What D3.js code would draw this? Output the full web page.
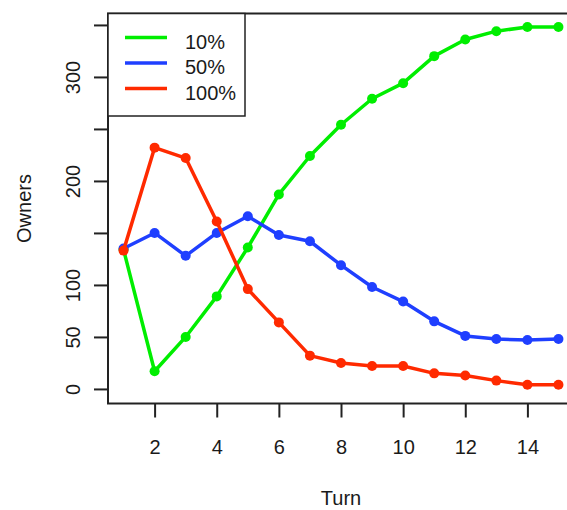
<!DOCTYPE html>
<html>
<head>
<meta charset="utf-8">
<script src="https://cdn.jsdelivr.net/npm/d3@7"></script>
<style>
  body { margin: 0; background: #fff; }
  svg text { font-family: "Liberation Sans", Arial, sans-serif; font-size: 20px; fill: #1a1a1a; }
</style>
</head>
<body>
<svg id="chart"></svg>
<script>
// data
const turns = [1, 2, 3, 4, 5, 6, 7, 8, 9, 10, 11, 12, 13, 14, 15];
const owners10 = [134, 17, 50, 89, 136, 187, 224, 254, 279, 294, 320, 336, 344, 348, 348];
const owners50 = [135, 150, 128, 150, 166, 148, 142, 119, 98, 84, 65, 51, 48, 47, 48];
const owners100 = [133, 232, 222, 161, 96, 64, 32, 25, 22, 22, 15, 13, 8, 4, 4];
const seriesNames = ['10%', '50%', '100%'];
const seriesColors = ['#00ee00', '#1f3fff', '#ff2a00'];
const xTicks = [2, 4, 6, 8, 10, 12, 14];
const yTicks = [0, 50, 100, 150, 200, 250, 300, 350];
const yLabelled = [0, 50, 100, 200, 300];

const width = 567, height = 510;
const plot = { left: 108, right: 574, top: 13.5, bottom: 403.5 };

const svg = d3.select('#chart')
  .attr('width', width)
  .attr('height', height);

const x = d3.scaleLinear()
  .domain([0.5, 15.5])
  .range([plot.left, plot.right]);

const y = d3.scaleLinear()
  .domain([-14, 361])
  .range([plot.bottom, plot.top]);

// axes (R style: ticks outside, labels only where they fit)
const xAxis = d3.axisBottom(x)
  .tickValues(xTicks)
  .tickSize(14)
  .tickFormat(d3.format('d'));

const yAxis = d3.axisLeft(y)
  .tickValues(yTicks)
  .tickSize(14)
  .tickFormat(d => yLabelled.includes(d) ? d : '');

const xG = svg.append('g')
  .attr('transform', `translate(0,${plot.bottom})`)
  .call(xAxis);
xG.select('.domain').remove();
xG.selectAll('line').attr('stroke', '#222').attr('stroke-width', 2);
xG.selectAll('text')
  .attr('y', 50)
  .attr('dy', 0)
  .style('font-size', '20px')
  .style('font-family', '"Liberation Sans", Arial, sans-serif')
  .attr('fill', '#1a1a1a');

const yG = svg.append('g')
  .attr('transform', `translate(${plot.left},0)`)
  .call(yAxis);
yG.select('.domain').remove();
yG.selectAll('line').attr('stroke', '#222').attr('stroke-width', 2);
yG.selectAll('text')
  .attr('x', 0)
  .attr('y', 0)
  .attr('dy', 0)
  .attr('text-anchor', 'middle')
  .attr('transform', 'translate(-28,0) rotate(-90)')
  .style('font-size', '20px')
  .style('font-family', '"Liberation Sans", Arial, sans-serif')
  .attr('fill', '#1a1a1a');

// plot box
svg.append('rect')
  .attr('x', plot.left)
  .attr('y', plot.top)
  .attr('width', plot.right - plot.left)
  .attr('height', plot.bottom - plot.top)
  .attr('fill', 'none')
  .attr('stroke', '#222')
  .attr('stroke-width', 2);

// axis titles
svg.append('text')
  .text('Turn')
  .attr('text-anchor', 'middle')
  .attr('x', 341)
  .attr('y', 505);

svg.append('text')
  .text('Owners')
  .attr('text-anchor', 'middle')
  .attr('transform', `translate(31,${(plot.top + plot.bottom) / 2}) rotate(-90)`);

// lines + points
const series = [owners10, owners50, owners100];
const line = d3.line()
  .x((d, i) => x(turns[i]))
  .y(d => y(d));

series.forEach((vals, k) => {
  const g = svg.append('g');
  g.append('path')
    .datum(vals)
    .attr('d', line)
    .attr('fill', 'none')
    .attr('stroke', seriesColors[k])
    .attr('stroke-width', 3.5)
    .attr('stroke-linejoin', 'round');
  g.selectAll('circle')
    .data(vals)
    .enter()
    .append('circle')
    .attr('cx', (d, i) => x(turns[i]))
    .attr('cy', d => y(d))
    .attr('r', 5)
    .attr('fill', seriesColors[k]);
});

// legend
const legend = svg.append('g');
legend.append('rect')
  .attr('x', plot.left)
  .attr('y', plot.top)
  .attr('width', 137)
  .attr('height', 102.5)
  .attr('fill', '#fff')
  .attr('stroke', '#222')
  .attr('stroke-width', 1.5);

const legendY = [37.5, 63, 88.5];
seriesNames.forEach((name, k) => {
  legend.append('line')
    .attr('x1', 125)
    .attr('x2', 167)
    .attr('y1', legendY[k])
    .attr('y2', legendY[k])
    .attr('stroke', seriesColors[k])
    .attr('stroke-width', 3.5);
  legend.append('text')
    .text(name)
    .attr('x', 185)
    .attr('y', legendY[k] + 11);
});
</script>
</body>
</html>
